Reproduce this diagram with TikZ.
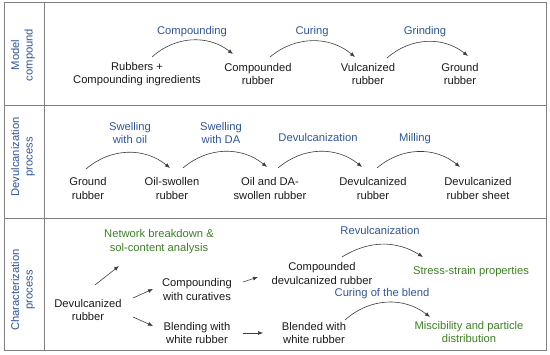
\documentclass[tikz,border=0pt]{standalone}
\usepackage{fontspec}
\setmainfont{Liberation Sans}
\usetikzlibrary{arrows.meta}
\definecolor{frame}{HTML}{7F7F7F}
\definecolor{procblue}{HTML}{2F5597}
\definecolor{outgreen}{HTML}{3D7F25}
\definecolor{ink}{HTML}{1A1A1A}

\begin{document}
\begin{tikzpicture}[x=1pt,y=1pt,font=\fontsize{11.2}{13.5}\selectfont,
  stage/.style={align=center,text=ink,inner sep=1pt},
  proc/.style={align=center,text=procblue,inner sep=1pt},
  result/.style={align=center,text=outgreen,inner sep=1pt},
  rowname/.style={align=center,text=procblue,rotate=90,inner sep=1pt},
  flow/.style={draw=ink!85,line width=.6pt,-{Latex[length=5pt,width=4pt]}}]
  \useasboundingbox (0,0) rectangle (550,-355);

  % Outer frame, heading column and the three bands.
  \draw[frame,line width=1pt] (4,-2.5) rectangle (546,-351);
  \draw[frame,line width=1pt] (44,-2.5) -- (44,-351);
  \draw[frame,line width=1pt] (4,-106) -- (546,-106);
  \draw[frame,line width=1pt] (4,-219) -- (546,-219);

  \node[rowname] (band1) at (23,-55) {Model\\compound};
  \node[rowname] (band2) at (23,-157) {Devulcanization\\process};
  \node[rowname] (band3) at (23,-290) {Characterization\\process};

  % Model compound
  \node[stage] (rub) at (137,-74) {Rubbers +\\Compounding ingredients};
  \node[stage] (cmp) at (258,-74) {Compounded\\rubber};
  \node[stage] (vul) at (368,-74) {Vulcanized\\rubber};
  \node[stage] (grd) at (460,-74) {Ground\\rubber};
  \node[proc] (lcomp) at (192,-32) {Compounding};
  \node[proc] (lcure) at (312,-32) {Curing};
  \node[proc] (lgrind) at (425,-32) {Grinding};
  \draw[flow] ([shift={(15,17)}]rub.center) to[bend left=40] ([shift={(-25,20)}]cmp.center);
  \draw[flow] ([shift={(12,17)}]cmp.center) to[bend left=40] ([shift={(-13,17)}]vul.center);
  \draw[flow] ([shift={(19,16)}]vul.center) to[bend left=40] ([shift={(8,18)}]grd.center);

  % Devulcanization process
  \node[stage] (gnd) at (88,-188.5) {Ground\\rubber};
  \node[stage] (osw) at (172,-188.5) {Oil-swollen\\rubber};
  \node[stage] (dsw) at (270,-188.5) {Oil and DA-\\swollen rubber};
  \node[stage] (dvr) at (373,-188.5) {Devulcanized\\rubber};
  \node[stage] (dvs) at (478,-188.5) {Devulcanized\\rubber sheet};
  \node[proc] (loil) at (130,-133) {Swelling\\with oil};
  \node[proc] (lda) at (221,-133) {Swelling\\with DA};
  \node[proc] (ldevul) at (318,-138) {Devulcanization};
  \node[proc] (lmill) at (415,-139) {Milling};
  \draw[flow] ([shift={(-2,19.5)}]gnd.center) to[bend left=40] ([shift={(-2,20.5)}]osw.center);
  \draw[flow] ([shift={(11,20.5)}]osw.center) to[bend left=40] ([shift={(-3,21.5)}]dsw.center);
  \draw[flow] ([shift={(8,20.5)}]dsw.center) to[bend left=40] ([shift={(-11,21.5)}]dvr.center);
  \draw[flow] ([shift={(4,20.5)}]dvr.center) to[bend left=40] ([shift={(-18,21.5)}]dvs.center);

  % Characterization process
  \node[stage] (dev) at (88,-310) {Devulcanized\\rubber};
  \node[result] (net) at (159,-241.5) {Network breakdown \&\\sol-content analysis};
  \node[stage] (cwc) at (197,-289.5) {Compounding\\with curatives};
  \node[stage] (bwr) at (197,-333) {Blending with\\white rubber};
  \node[stage] (cdr) at (322,-273.5) {Compounded\\devulcanized rubber};
  \node[stage] (bld) at (314,-333) {Blended with\\white rubber};
  \node[result] (ssp) at (471,-272) {Stress-strain properties};
  \node[result] (mis) at (469,-332) {Miscibility and particle\\distribution};
  \node[proc] (lrevul) at (380,-230) {Revulcanization};
  \node[proc] (lblend) at (382,-294) {Curing of the blend};
  \draw[flow] ([shift={(7,25)}]dev.center) -- ([shift={(-40,-24.5)}]net.center);
  \draw[flow] ([shift={(45,12)}]dev.center) -- ([shift={(-44,0.5)}]cwc.center);
  \draw[flow] ([shift={(45,-7)}]dev.center) -- ([shift={(-44,7)}]bwr.center);
  \draw[flow] ([shift={(46,7.5)}]cwc.center) -- ([shift={(-64,-3.5)}]cdr.center);
  \draw[flow] ([shift={(46,0)}]bwr.center) -- ([shift={(-51,0)}]bld.center);
  \draw[flow] ([shift={(20,16.5)}]cdr.center) to[bend left=32] ([shift={(-48,15)}]ssp.center);
  \draw[flow] ([shift={(31,13)}]bld.center) to[bend left=40] ([shift={(-39,15)}]mis.center);
\end{tikzpicture}
\end{document}
